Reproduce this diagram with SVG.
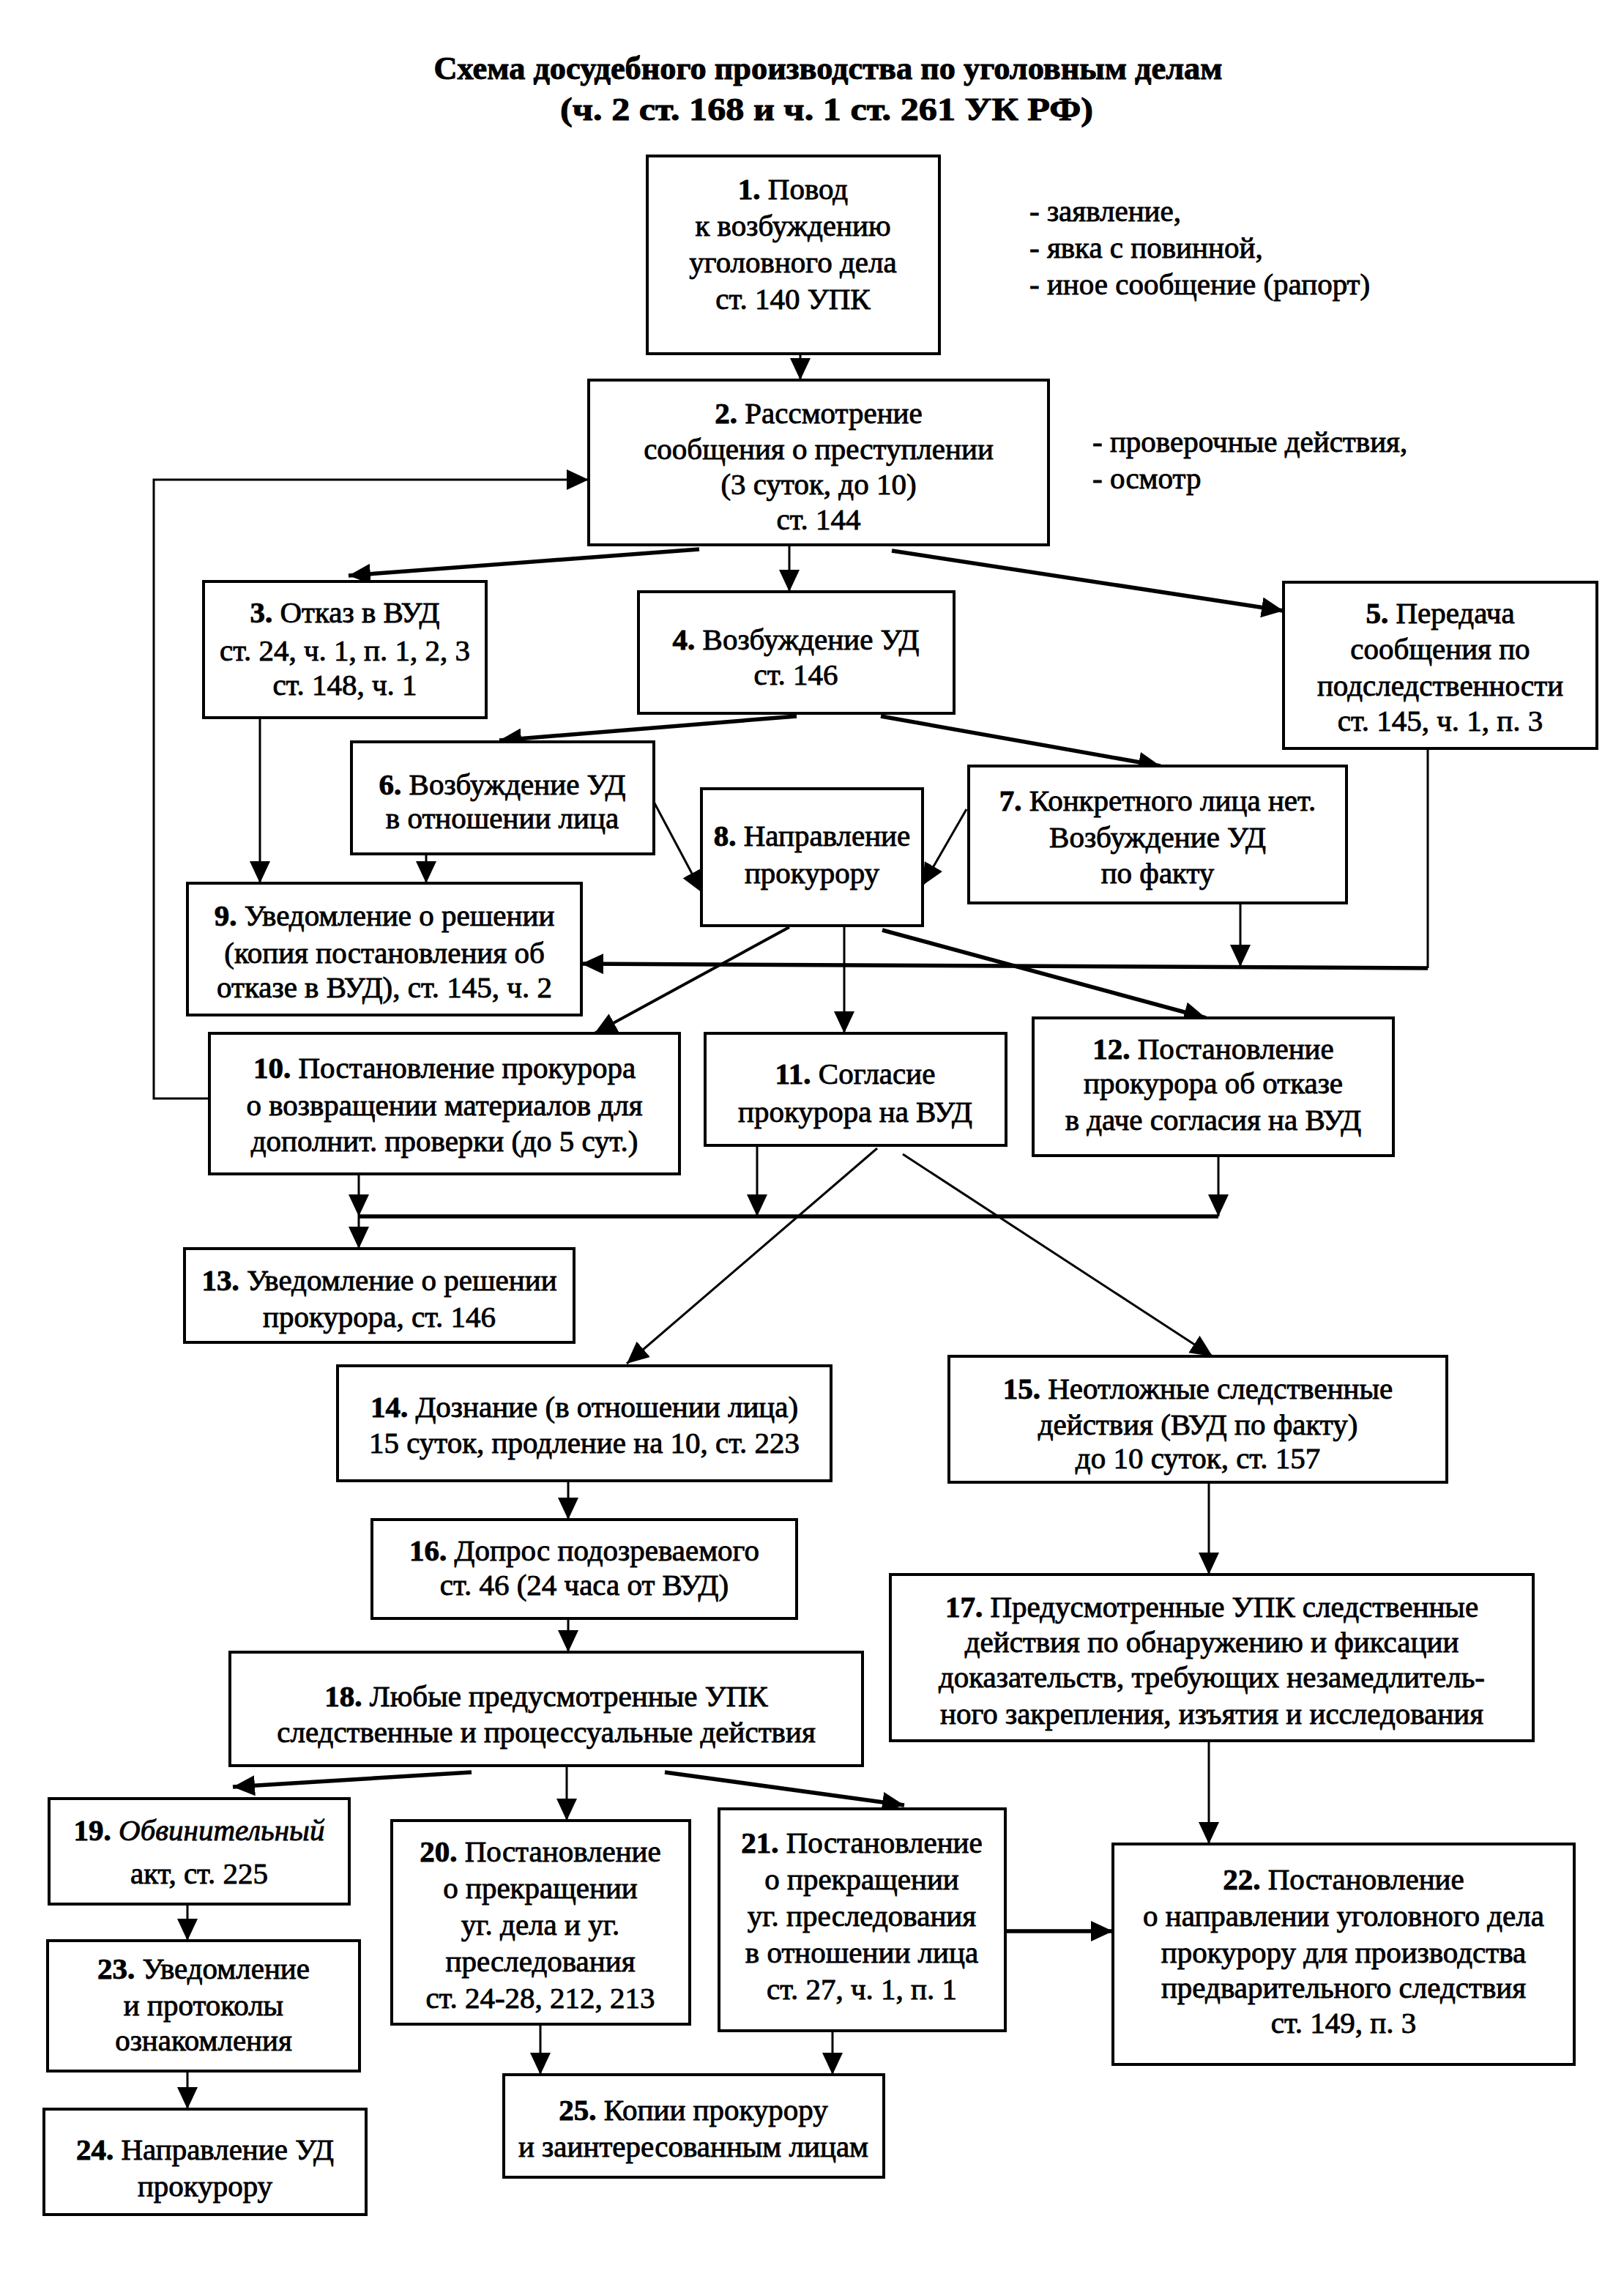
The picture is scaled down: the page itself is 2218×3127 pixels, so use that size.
<svg xmlns="http://www.w3.org/2000/svg" width="2218" height="3127" viewBox="0 0 2218 3127">
<style>
.box{fill:#fff;stroke:#000;stroke-width:4}
.t{font-family:"Liberation Serif","Times New Roman",serif;font-size:41px;text-anchor:middle;fill:#000;stroke:#000;stroke-width:0.9}
.n{font-weight:bold}
.i{font-style:italic}
.s{text-anchor:start}
.ti{font-family:"Liberation Serif","Times New Roman",serif;font-size:44px;font-weight:bold;text-anchor:middle;fill:#000;stroke:#000;stroke-width:1}
.c{fill:none;stroke:#000;stroke-width:3}
.k{stroke-width:5.5}
</style>
<defs>
<marker id="a" markerUnits="userSpaceOnUse" markerWidth="32" markerHeight="28" refX="30" refY="14" orient="auto">
<path d="M0,0 L30,14 L0,28 z" fill="#000"/>
</marker>
</defs>
<rect width="2218" height="3127" fill="#fff"/>
<g id="title">
<text class="ti" x="1131" y="108" textLength="1077" lengthAdjust="spacingAndGlyphs">Схема досудебного производства по уголовным делам</text>
<text class="ti" x="1129" y="164" textLength="728" lengthAdjust="spacingAndGlyphs">(ч. 2 ст. 168 и ч. 1 ст. 261 УК РФ)</text>
</g>
<g id="connectors">
<path class="c" d="M1093,483 V519" marker-end="url(#a)"/>
<path class="c" d="M286,1500 H210 V655 H804" marker-end="url(#a)"/>
<path class="c k" d="M955,750 L476,786" marker-end="url(#a)"/>
<path class="c" d="M1078,744 V808" marker-end="url(#a)"/>
<path class="c k" d="M1218,752 L1753,834" marker-end="url(#a)"/>
<path class="c k" d="M1088,978 L682,1011" marker-end="url(#a)"/>
<path class="c k" d="M1203,978 L1585,1046" marker-end="url(#a)"/>
<path class="c" d="M893,1095 L959,1219" marker-end="url(#a)"/>
<path class="c" d="M1320,1105 L1260,1209" marker-end="url(#a)"/>
<path class="c" d="M355,980 V1206" marker-end="url(#a)"/>
<path class="c" d="M582,1166 V1206" marker-end="url(#a)"/>
<path class="c" d="M1950,1022 V1322"/>
<path class="c k" d="M1950,1322 L794,1316" marker-end="url(#a)"/>
<path class="c" d="M1694,1233 V1320" marker-end="url(#a)"/>
<path class="c" d="M1078,1266 L812,1411" style="stroke-width:4" marker-end="url(#a)"/>
<path class="c" d="M1153,1264 V1411" marker-end="url(#a)"/>
<path class="c k" d="M1205,1270 L1647,1390" marker-end="url(#a)"/>
<path class="c" d="M490,1603 V1661" marker-end="url(#a)"/>
<path class="c" d="M490,1661 V1705" marker-end="url(#a)"/>
<path class="c k" d="M490,1661 H1664"/>
<path class="c" d="M1034,1564 V1661" marker-end="url(#a)"/>
<path class="c" d="M1664,1578 V1661" marker-end="url(#a)"/>
<path class="c" d="M1198,1568 L856,1862" marker-end="url(#a)"/>
<path class="c" d="M1233,1576 L1656,1852" marker-end="url(#a)"/>
<path class="c" d="M776,2022 V2075" marker-end="url(#a)"/>
<path class="c" d="M1651,2024 V2150" marker-end="url(#a)"/>
<path class="c" d="M776,2210 V2256" marker-end="url(#a)"/>
<path class="c" d="M1651,2377 V2518" marker-end="url(#a)"/>
<path class="c k" d="M644,2420 L318,2440" marker-end="url(#a)"/>
<path class="c" d="M774,2411 V2486" marker-end="url(#a)"/>
<path class="c k" d="M908,2420 L1235,2465" marker-end="url(#a)"/>
<path class="c k" d="M1373,2637 H1520" marker-end="url(#a)"/>
<path class="c" d="M256,2600 V2650" marker-end="url(#a)"/>
<path class="c" d="M256,2828 V2880" marker-end="url(#a)"/>
<path class="c" d="M738,2764 V2833" marker-end="url(#a)"/>
<path class="c" d="M1137,2773 V2833" marker-end="url(#a)"/>
</g>
<g id="n1"><rect class="box" x="884" y="213" width="399" height="270"/>
<text class="t" x="1083" y="272"><tspan class="n">1.</tspan> Повод</text>
<text class="t" x="1083" y="322">к возбуждению</text>
<text class="t" x="1083" y="372">уголовного дела</text>
<text class="t" x="1083" y="422">ст. 140 УПК</text></g>
<g id="note1">
<text class="t s" x="1406" y="302">- заявление,</text>
<text class="t s" x="1406" y="352">- явка с повинной,</text>
<text class="t s" x="1406" y="402">- иное сообщение (рапорт)</text></g>
<g id="n2"><rect class="box" x="804" y="519" width="628" height="225"/>
<text class="t" x="1118" y="578"><tspan class="n">2.</tspan> Рассмотрение</text>
<text class="t" x="1118" y="627">сообщения о преступлении</text>
<text class="t" x="1118" y="675">(3 суток, до 10)</text>
<text class="t" x="1118" y="723">ст. 144</text></g>
<g id="note2">
<text class="t s" x="1492" y="617">- проверочные действия,</text>
<text class="t s" x="1492" y="667">- осмотр</text></g>
<g id="n3"><rect class="box" x="278" y="794" width="386" height="186"/>
<text class="t" x="471" y="850"><tspan class="n">3.</tspan> Отказ в ВУД</text>
<text class="t" x="471" y="902">ст. 24, ч. 1, п. 1, 2, 3</text>
<text class="t" x="471" y="949">ст. 148, ч. 1</text></g>
<g id="n4"><rect class="box" x="872" y="808" width="431" height="166"/>
<text class="t" x="1087" y="887"><tspan class="n">4.</tspan> Возбуждение УД</text>
<text class="t" x="1087" y="935">ст. 146</text></g>
<g id="n5"><rect class="box" x="1753" y="795" width="428" height="227"/>
<text class="t" x="1967" y="851"><tspan class="n">5.</tspan> Передача</text>
<text class="t" x="1967" y="900">сообщения по</text>
<text class="t" x="1967" y="950">подследственности</text>
<text class="t" x="1967" y="998">ст. 145, ч. 1, п. 3</text></g>
<g id="n6"><rect class="box" x="480" y="1013" width="413" height="153"/>
<text class="t" x="686" y="1085"><tspan class="n">6.</tspan> Возбуждение УД</text>
<text class="t" x="686" y="1131">в отношении лица</text></g>
<g id="n7"><rect class="box" x="1323" y="1046" width="516" height="187"/>
<text class="t" x="1581" y="1107"><tspan class="n">7.</tspan> Конкретного лица нет.</text>
<text class="t" x="1581" y="1157">Возбуждение УД</text>
<text class="t" x="1581" y="1206">по факту</text></g>
<g id="n8"><rect class="box" x="958" y="1077" width="302" height="187"/>
<text class="t" x="1109" y="1155"><tspan class="n">8.</tspan> Направление</text>
<text class="t" x="1109" y="1206">прокурору</text></g>
<g id="n9"><rect class="box" x="256" y="1206" width="538" height="180"/>
<text class="t" x="525" y="1264"><tspan class="n">9.</tspan> Уведомление о решении</text>
<text class="t" x="525" y="1315">(копия постановления об</text>
<text class="t" x="525" y="1362">отказе в ВУД), ст. 145, ч. 2</text></g>
<g id="n10"><rect class="box" x="286" y="1411" width="642" height="192"/>
<text class="t" x="607" y="1472"><tspan class="n">10.</tspan> Постановление прокурора</text>
<text class="t" x="607" y="1523">о возвращении материалов для</text>
<text class="t" x="607" y="1572">дополнит. проверки (до 5 сут.)</text></g>
<g id="n11"><rect class="box" x="963" y="1411" width="411" height="153"/>
<text class="t" x="1168" y="1480"><tspan class="n">11.</tspan> Согласие</text>
<text class="t" x="1168" y="1532">прокурора на ВУД</text></g>
<g id="n12"><rect class="box" x="1411" y="1390" width="492" height="188"/>
<text class="t" x="1657" y="1446"><tspan class="n">12.</tspan> Постановление</text>
<text class="t" x="1657" y="1493">прокурора об отказе</text>
<text class="t" x="1657" y="1543">в даче согласия на ВУД</text></g>
<g id="n13"><rect class="box" x="252" y="1705" width="532" height="128"/>
<text class="t" x="518" y="1762"><tspan class="n">13.</tspan> Уведомление о решении</text>
<text class="t" x="518" y="1812">прокурора, ст. 146</text></g>
<g id="n14"><rect class="box" x="461" y="1865" width="674" height="157"/>
<text class="t" x="798" y="1935"><tspan class="n">14.</tspan> Дознание (в отношении лица)</text>
<text class="t" x="798" y="1984">15 суток, продление на 10, ст. 223</text></g>
<g id="n15"><rect class="box" x="1296" y="1852" width="680" height="172"/>
<text class="t" x="1636" y="1910"><tspan class="n">15.</tspan> Неотложные следственные</text>
<text class="t" x="1636" y="1959">действия (ВУД по факту)</text>
<text class="t" x="1636" y="2005">до 10 суток, ст. 157</text></g>
<g id="n16"><rect class="box" x="508" y="2075" width="580" height="135"/>
<text class="t" x="798" y="2131"><tspan class="n">16.</tspan> Допрос подозреваемого</text>
<text class="t" x="798" y="2178">ст. 46 (24 часа от ВУД)</text></g>
<g id="n17"><rect class="box" x="1216" y="2150" width="878" height="227"/>
<text class="t" x="1655" y="2208"><tspan class="n">17.</tspan> Предусмотренные УПК следственные</text>
<text class="t" x="1655" y="2256">действия по обнаружению и фиксации</text>
<text class="t" x="1655" y="2304">доказательств, требующих незамедлитель-</text>
<text class="t" x="1655" y="2354">ного закрепления, изъятия и исследования</text></g>
<g id="n18"><rect class="box" x="314" y="2256" width="864" height="155"/>
<text class="t" x="746" y="2330"><tspan class="n">18.</tspan> Любые предусмотренные УПК</text>
<text class="t" x="746" y="2379">следственные и процессуальные действия</text></g>
<g id="n19"><rect class="box" x="67" y="2456" width="410" height="144"/>
<text class="t" x="272" y="2513"><tspan class="n">19.</tspan> <tspan class="i">Обвинительный</tspan></text>
<text class="t" x="272" y="2572">акт, ст. 225</text></g>
<g id="n20"><rect class="box" x="535" y="2486" width="407" height="278"/>
<text class="t" x="738" y="2542"><tspan class="n">20.</tspan> Постановление</text>
<text class="t" x="738" y="2592">о прекращении</text>
<text class="t" x="738" y="2642">уг. дела и уг.</text>
<text class="t" x="738" y="2692">преследования</text>
<text class="t" x="738" y="2742">ст. 24-28, 212, 213</text></g>
<g id="n21"><rect class="box" x="982" y="2470" width="391" height="303"/>
<text class="t" x="1177" y="2530"><tspan class="n">21.</tspan> Постановление</text>
<text class="t" x="1177" y="2580">о прекращении</text>
<text class="t" x="1177" y="2630">уг. преследования</text>
<text class="t" x="1177" y="2680">в отношении лица</text>
<text class="t" x="1177" y="2730">ст. 27, ч. 1, п. 1</text></g>
<g id="n22"><rect class="box" x="1520" y="2518" width="630" height="301"/>
<text class="t" x="1835" y="2580"><tspan class="n">22.</tspan> Постановление</text>
<text class="t" x="1835" y="2630">о направлении уголовного дела</text>
<text class="t" x="1835" y="2680">прокурору для производства</text>
<text class="t" x="1835" y="2728">предварительного следствия</text>
<text class="t" x="1835" y="2776">ст. 149, п. 3</text></g>
<g id="n23"><rect class="box" x="65" y="2650" width="426" height="178"/>
<text class="t" x="278" y="2702"><tspan class="n">23.</tspan> Уведомление</text>
<text class="t" x="278" y="2752">и протоколы</text>
<text class="t" x="278" y="2800">ознакомления</text></g>
<g id="n24"><rect class="box" x="60" y="2880" width="440" height="144"/>
<text class="t" x="280" y="2949"><tspan class="n">24.</tspan> Направление УД</text>
<text class="t" x="280" y="2999">прокурору</text></g>
<g id="n25"><rect class="box" x="688" y="2833" width="519" height="140"/>
<text class="t" x="947" y="2895"><tspan class="n">25.</tspan> Копии прокурору</text>
<text class="t" x="947" y="2945">и заинтересованным лицам</text></g>
</svg>
